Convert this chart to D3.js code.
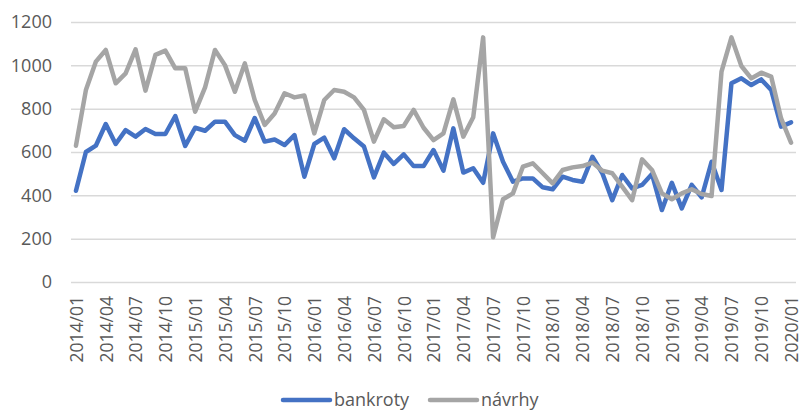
<!DOCTYPE html>
<html>
<head>
<meta charset="utf-8">
<script src="https://cdn.jsdelivr.net/npm/d3@7"></script>
<style>
    body { margin: 0; background: #fff; }
    text { font-family: "Open Sans", "Liberation Sans", sans-serif; fill: #595959; }
</style>
</head>
<body>
<div id="chart"></div>
<script>
// Data: monthly values, 2014/01 .. 2020/01
var months = [];
for (var yr = 2014; yr <= 2020; yr++) {
    for (var m = 1; m <= 12; m++) {
        if (yr === 2020 && m > 1) break;
        months.push(yr + "/" + (m < 10 ? "0" + m : m));
    }
}

var bankroty = [
    421, 600, 629, 729, 637, 701, 671, 706, 683, 683, 766, 628,
    712, 698, 740, 740, 678, 652, 757, 648, 658, 632, 678, 486,
    637, 666, 571, 705, 663, 625, 483, 597, 545, 589, 535, 535,
    609, 514, 709, 505, 525, 458, 686, 555, 463, 478, 478, 437,
    428, 486, 471, 463, 578, 502, 378, 494, 432, 448, 498, 332,
    458, 340, 448, 391, 555, 425, 917, 940, 909, 935, 886, 717,
    737
];

var navrhy = [
    629, 886, 1017, 1071, 917, 963, 1074, 883, 1048, 1068, 986, 986,
    786, 898, 1071, 1001, 878, 1009, 840, 725, 778, 871, 852, 861,
    686, 840, 886, 878, 852, 794, 648, 751, 714, 720, 794, 712,
    655, 686, 843, 671, 760, 1129, 206, 382, 409, 532, 548, 502,
    455, 517, 529, 535, 551, 514, 502, 440, 378, 566, 517, 409,
    382, 409, 428, 406, 397, 971, 1129, 997, 940, 966, 948, 755,
    643
];

var yTicks = [0, 200, 400, 600, 800, 1000, 1200];

var seriesNames = ["bankroty", "návrhy"];
var seriesColors = ["#4472C4", "#A5A5A5"];

// chart setup
var svgWidth = 801;
var svgHeight = 410;

var plot = { left: 71, right: 796, top: 22, bottom: 282 };

var svg = d3.select("#chart")
    .append("svg")
    .attr("width", svgWidth)
    .attr("height", svgHeight);

var xScale = d3.scalePoint()
    .domain(months)
    .range([plot.left, plot.right])
    .padding(0.5);

var yScale = d3.scaleLinear()
    .domain([0, 1200])
    .range([plot.bottom, plot.top]);

// gridlines + y labels
var yAxis = d3.axisLeft(yScale)
    .tickValues(yTicks)
    .tickFormat(d3.format("d"))
    .tickSize(-(plot.right - plot.left))
    .tickPadding(19);

var yAxisGroup = svg.append("g")
    .attr("transform", `translate(${plot.left}, 0)`)
    .call(yAxis);

yAxisGroup.select(".domain").remove();
yAxisGroup.selectAll("line")
    .attr("stroke", "#d9d9d9")
    .attr("stroke-width", 1.5);
yAxisGroup.selectAll("text")
    .style("font-size", "18px")
    .attr("fill", "#595959");

// x labels (every 3rd month), rotated
var xAxis = d3.axisBottom(xScale)
    .tickValues(months.filter((d, i) => i % 3 === 0))
    .tickSize(0);

var xAxisGroup = svg.append("g")
    .attr("transform", `translate(0, ${plot.bottom})`)
    .call(xAxis);

xAxisGroup.select(".domain").remove();
xAxisGroup.selectAll("text")
    .style("font-size", "17.5px")
    .attr("fill", "#595959")
    .attr("text-anchor", "end")
    .attr("transform", "rotate(-90)")
    .attr("x", -14)
    .attr("y", 0)
    .attr("dy", "0.36em");

// lines
var line = d3.line()
    .x((d, i) => xScale(months[i]))
    .y(d => yScale(d));

[bankroty, navrhy].forEach(function (values, k) {
    svg.append("path")
        .datum(values)
        .attr("fill", "none")
        .attr("stroke", seriesColors[k])
        .attr("stroke-width", 4.5)
        .attr("stroke-linejoin", "round")
        .attr("stroke-linecap", "round")
        .attr("d", line);
});

// legend
var legendX = [283, 430];
var legend = svg.append("g");

seriesNames.forEach(function (name, k) {
    legend.append("line")
        .attr("x1", legendX[k])
        .attr("x2", legendX[k] + 47)
        .attr("y1", 400)
        .attr("y2", 400)
        .attr("stroke", seriesColors[k])
        .attr("stroke-width", 4.5)
        .attr("stroke-linecap", "round");

    legend.append("text")
        .attr("x", legendX[k] + 51)
        .attr("y", 406)
        .style("font-size", "18px")
        .text(name);
});
</script>
</body>
</html>
